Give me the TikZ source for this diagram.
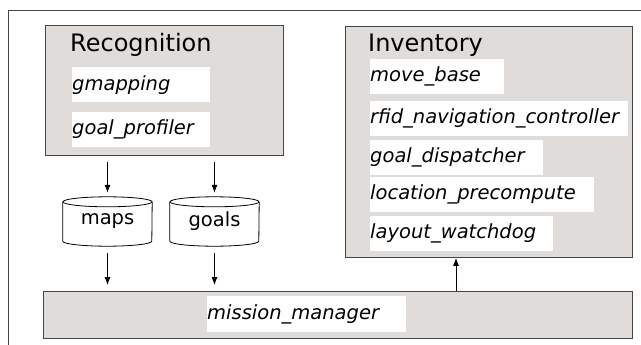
\documentclass[tikz,border=0pt]{standalone}
\usepackage{fontspec}
\setmainfont{DejaVu Sans}
\usetikzlibrary{shapes.geometric, arrows.meta, positioning}
\definecolor{boxgray}{RGB}{224,220,218}
\definecolor{edgegray}{RGB}{70,70,70}

\begin{document}
\begin{tikzpicture}[
    x=1pt, y=-1pt,
    group/.style={rectangle, draw=edgegray, fill=boxgray, line width=0.9pt, anchor=north west, inner sep=0pt},
    title/.style={anchor=base west, inner sep=0pt, font=\fontsize{24}{28}\selectfont},
    item/.style={rectangle, fill=white, anchor=north west, inner sep=0pt, minimum height=35pt, text width=#1, align=left, font=\fontsize{19.5}{23}\selectfont\itshape},
    store/.style={rectangle, minimum width=89pt, minimum height=49pt, inner sep=0pt, font=\fontsize{19.5}{23}\selectfont},
    arrow/.style={-{Latex[length=8pt, width=6pt]}, line width=0.8pt}
]
    \useasboundingbox (0,0) rectangle (641,345);

    % Frame
    \draw[edgegray, line width=0.9pt] (641,10) -- (8,10) -- (8,345);

    % Recognition
    \node[group, minimum width=238pt, minimum height=130pt] (recog) at (45,25) {};
    \node[title] (recogtitle) at (70,52) {Recognition};
    \node[item=138pt] (gmap) at (72,67) {gmapping};
    \node[item=138pt] (profiler) at (72,112) {goal\_profiler};

    % Inventory
    \node[group, minimum width=287pt, minimum height=231pt] (inv) at (345,26) {};
    \node[title] (invtitle) at (368,52) {Inventory};
    \node[item=134pt] (movebase) at (370,59) {move\_base};
    \node[item=258pt] (rfid) at (370,101) {rfid\_navigation\_controller};
    \node[item=173pt] (dispatch) at (370,140) {goal\_dispatcher};
    \node[item=224pt] (precompute) at (370,177) {location\_precompute};
    \node[item=183pt] (watchdog) at (370,216) {layout\_watchdog};

    % Data stores
    \node[store] (maps) at (107.5,221.5) {maps};
    \node[store] (goals) at (214.5,221.5) {goals};
    \foreach \s in {maps,goals} {
        \draw[line width=0.8pt] ([yshift=-5pt]\s.north west) -- ([yshift=5pt]\s.south west)
            arc[start angle=180, end angle=360, x radius=44.5pt, y radius=5pt]
            -- ([yshift=-5pt]\s.north east);
        \draw[line width=0.8pt] ([yshift=-5pt]\s.north) ellipse[x radius=44.5pt, y radius=5pt];
    }

    % Mission manager
    \node[group, minimum width=589pt, minimum height=47pt] (mission) at (43,291) {};
    \node[item=199pt, minimum height=36pt] (manager) at (207,296) {mission\_manager};

    % Arrows
    \coordinate (upx) at (456,0);
    \draw[arrow, shorten <=6pt, shorten >=4pt] (maps.north |- recog.south) -- (maps.north);
    \draw[arrow, shorten <=6pt, shorten >=4pt] (goals.north |- recog.south) -- (goals.north);
    \draw[arrow, shorten <=7pt, shorten >=6pt] (maps.south) -- (maps.south |- mission.north);
    \draw[arrow, shorten <=7pt, shorten >=6pt] (goals.south) -- (goals.south |- mission.north);
    \draw[arrow] (mission.north -| upx) -- (inv.south -| upx);
\end{tikzpicture}
\end{document}
